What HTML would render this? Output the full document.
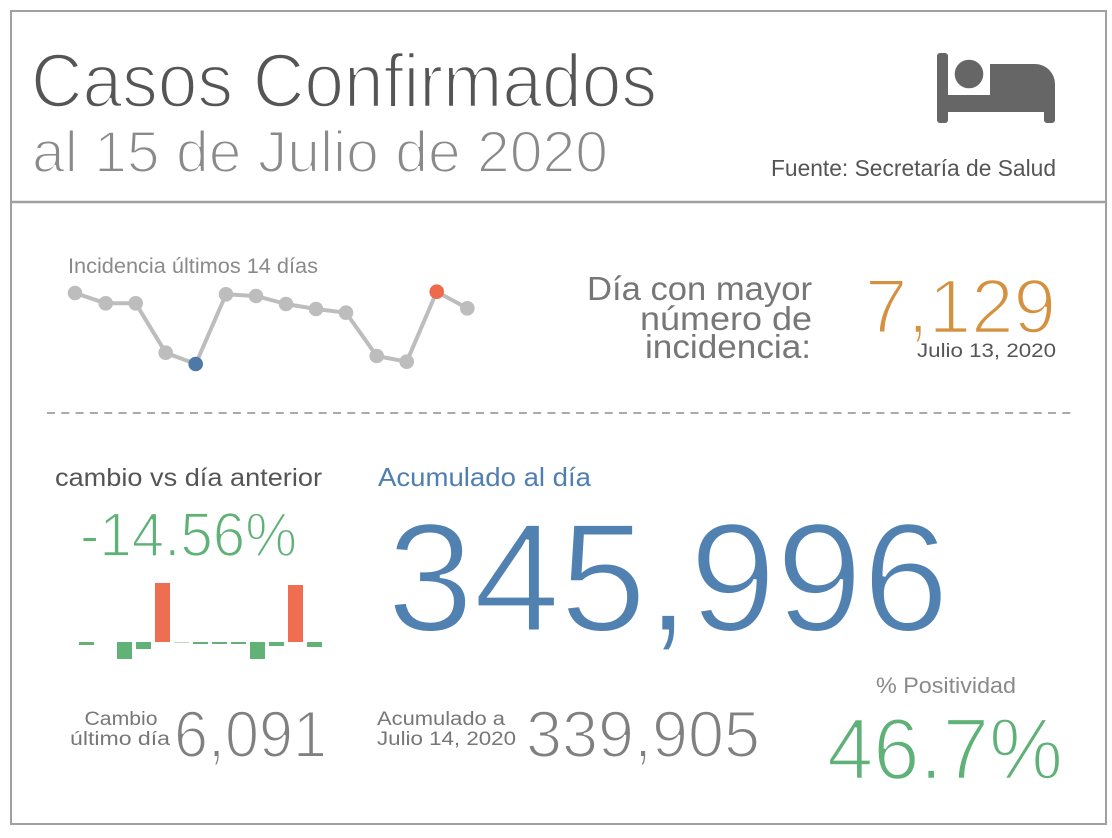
<!DOCTYPE html>
<html>
<head>
<meta charset="utf-8">
<style>
  html, body { margin: 0; padding: 0; background: #ffffff; }
  body { width: 1112px; height: 838px; overflow: hidden; }
  svg { display: block; }
  text { font-family: "Liberation Sans", "DejaVu Sans", sans-serif; }
  .thin { stroke: #ffffff; paint-order: fill stroke; }
</style>
</head>
<body>
<svg width="1112" height="838" viewBox="0 0 1112 838" xmlns="http://www.w3.org/2000/svg">
  <rect x="0" y="0" width="1112" height="838" fill="#ffffff"/>
  <!-- outer border -->
  <rect x="11" y="11" width="1095" height="813" fill="none" stroke="#a0a0a0" stroke-width="2"/>
  <line x1="11" y1="202" x2="1106" y2="202" stroke="#a0a0a0" stroke-width="2.5"/>

  <!-- Header -->
  <text class="thin" stroke-width="2.4" x="31" y="107" font-size="76" fill="#555555" textLength="626" lengthAdjust="spacingAndGlyphs">Casos Confirmados</text>
  <text class="thin" stroke-width="2" x="32" y="172" font-size="58" fill="#8a8a8a" textLength="576" lengthAdjust="spacingAndGlyphs">al 15 de Julio de 2020</text>
  <text x="771" y="176" font-size="23" fill="#555555" textLength="285" lengthAdjust="spacingAndGlyphs">Fuente: Secretaría de Salud</text>

  <!-- bed icon -->
  <g fill="#666666">
    <rect x="937" y="53" width="11" height="70" rx="3"/>
    <circle cx="969" cy="74" r="14.3"/>
    <path d="M990 64 H1035 A20 20 0 0 1 1055 84 V120 A3 3 0 0 1 1052 123 H1047 A3 3 0 0 1 1044 120 V112 H948 V95 H990 Z"/>
  </g>

  <!-- Sparkline -->
  <text x="68" y="273" font-size="21" fill="#8a8a8a" textLength="250" lengthAdjust="spacingAndGlyphs">Incidencia últimos 14 días</text>
  <polyline fill="none" stroke="#bdbdbd" stroke-width="4" stroke-linejoin="round"
    points="75,293 105.7,303.3 135.7,303.3 165.7,352.7 195.7,364 226,294.3 256,296 286,304 316,309 346,312.7 376.7,356 406.7,361.7 436.7,291.7 467.3,308.3"/>
  <g fill="#bdbdbd">
    <circle cx="75" cy="293" r="7.3"/>
    <circle cx="105.7" cy="303.3" r="7.3"/>
    <circle cx="135.7" cy="303.3" r="7.3"/>
    <circle cx="165.7" cy="352.7" r="7.3"/>
    <circle cx="226" cy="294.3" r="7.3"/>
    <circle cx="256" cy="296" r="7.3"/>
    <circle cx="286" cy="304" r="7.3"/>
    <circle cx="316" cy="309" r="7.3"/>
    <circle cx="346" cy="312.7" r="7.3"/>
    <circle cx="376.7" cy="356" r="7.3"/>
    <circle cx="406.7" cy="361.7" r="7.3"/>
    <circle cx="467.3" cy="308.3" r="7.3"/>
  </g>
  <circle cx="195.7" cy="364" r="7.3" fill="#4e79a7"/>
  <circle cx="436.7" cy="291.7" r="7.3" fill="#ee6a4d"/>

  <!-- Max day -->
  <text x="587" y="300" font-size="33" fill="#777777" textLength="225" lengthAdjust="spacingAndGlyphs">Día con mayor</text>
  <text x="640" y="330" font-size="33" fill="#777777" textLength="172" lengthAdjust="spacingAndGlyphs">número de</text>
  <text x="645" y="358" font-size="33" fill="#777777" textLength="166" lengthAdjust="spacingAndGlyphs">incidencia:</text>
  <text class="thin" stroke-width="2.4" x="865" y="333" font-size="77" fill="#d4913f" textLength="191" lengthAdjust="spacingAndGlyphs">7,129</text>
  <text x="917" y="357" font-size="19.5" fill="#555555" textLength="139" lengthAdjust="spacingAndGlyphs">Julio 13, 2020</text>

  <!-- dashed separator -->
  <line x1="47" y1="413" x2="1072" y2="413" stroke="#aaaaaa" stroke-width="2" stroke-dasharray="8 6.3"/>

  <!-- cambio vs dia anterior -->
  <text x="55" y="486" font-size="25" fill="#555555" textLength="267" lengthAdjust="spacingAndGlyphs">cambio vs día anterior</text>
  <text class="thin" stroke-width="1.8" x="80" y="556" font-size="62" fill="#5fb177" textLength="217" lengthAdjust="spacingAndGlyphs">-14.56%</text>

  <!-- bars -->
  <g fill="#62b278">
    <rect x="79" y="642" width="15" height="3"/>
    <rect x="117" y="642" width="15" height="17"/>
    <rect x="136" y="642" width="15" height="7"/>
    <rect x="174" y="642" width="15" height="1" fill="#b5dcc0"/>
    <rect x="193" y="642" width="15" height="2"/>
    <rect x="212" y="642" width="15" height="2"/>
    <rect x="231" y="642" width="15" height="2"/>
    <rect x="250" y="642" width="15" height="17"/>
    <rect x="269" y="642" width="15" height="4"/>
    <rect x="307" y="642" width="15" height="5"/>
  </g>
  <g fill="#ef6e51">
    <rect x="155" y="583" width="15" height="59"/>
    <rect x="288" y="585" width="15" height="57"/>
  </g>

  <!-- Acumulado -->
  <text x="378" y="486" font-size="26" fill="#4f7fb0" textLength="213" lengthAdjust="spacingAndGlyphs">Acumulado al día</text>
  <text class="thin" stroke-width="3" x="387" y="631" font-size="155" fill="#5181b1" textLength="562" lengthAdjust="spacingAndGlyphs">345,996</text>

  <!-- bottom row -->
  <text x="121" y="725" font-size="19" fill="#777777" text-anchor="middle" textLength="73" lengthAdjust="spacingAndGlyphs">Cambio</text>
  <text x="120" y="745" font-size="19" fill="#777777" text-anchor="middle" textLength="100" lengthAdjust="spacingAndGlyphs">último día</text>
  <text class="thin" stroke-width="2" x="174" y="757" font-size="66" fill="#808080" textLength="153" lengthAdjust="spacingAndGlyphs">6,091</text>

  <text x="377" y="725" font-size="19" fill="#777777" textLength="128" lengthAdjust="spacingAndGlyphs">Acumulado a</text>
  <text x="377" y="745" font-size="19" fill="#777777" textLength="139" lengthAdjust="spacingAndGlyphs">Julio 14, 2020</text>
  <text class="thin" stroke-width="2" x="526" y="757" font-size="66" fill="#808080" textLength="234" lengthAdjust="spacingAndGlyphs">339,905</text>

  <text x="876" y="693" font-size="22" fill="#8a8a8a" textLength="140" lengthAdjust="spacingAndGlyphs">% Positividad</text>
  <text class="thin" stroke-width="2.4" x="827" y="779" font-size="87" fill="#5fb177" textLength="236" lengthAdjust="spacingAndGlyphs">46.7%</text>
</svg>
</body>
</html>
